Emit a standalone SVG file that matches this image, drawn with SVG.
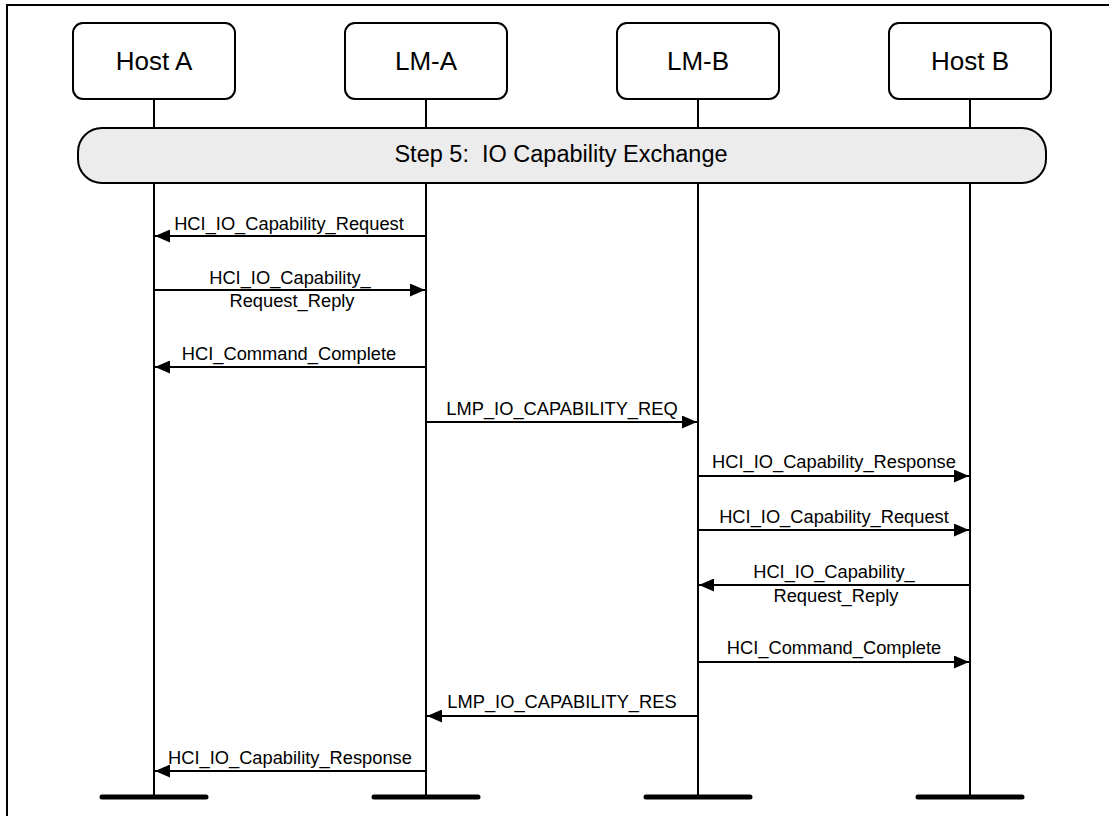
<svg xmlns="http://www.w3.org/2000/svg" width="1109" height="816" viewBox="0 0 1109 816">
<style>
.box{fill:#fff;stroke:#000;stroke-width:2}
.hdr{font-family:"Liberation Sans",Arial,sans-serif;font-size:26px;text-anchor:middle;fill:#000}
.life{stroke:#000;stroke-width:2;fill:none}
.foot{stroke:#000;stroke-width:5;stroke-linecap:round}
.msg{stroke:#000;stroke-width:2;fill:none;marker-end:url(#ah)}
.lbl{font-family:"Liberation Sans",Arial,sans-serif;font-size:18.3px;text-anchor:middle;fill:#000}
.step{fill:#ececec;stroke:#000;stroke-width:2}
.steptxt{font-family:"Liberation Sans",Arial,sans-serif;font-size:23.5px;text-anchor:middle;fill:#000}
</style>
<defs>
<marker id="ah" markerWidth="15" markerHeight="13" refX="15" refY="6.5" orient="auto" markerUnits="userSpaceOnUse">
<path d="M0,0 L15,6.5 L0,13 Z" fill="#000"/>
</marker>
</defs>
<rect x="0" y="0" width="1109" height="816" fill="#fff"/>
<rect id="frame" x="7" y="5" width="1200" height="900" fill="none" stroke="#000" stroke-width="2"/>

<g id="lifelines">
<line class="life" x1="154" y1="99" x2="154" y2="797"/>
<line class="life" x1="426" y1="99" x2="426" y2="797"/>
<line class="life" x1="698" y1="99" x2="698" y2="797"/>
<line class="life" x1="970" y1="99" x2="970" y2="797"/>
<line class="foot" x1="102" y1="797" x2="206" y2="797"/>
<line class="foot" x1="374" y1="797" x2="478" y2="797"/>
<line class="foot" x1="646" y1="797" x2="750" y2="797"/>
<line class="foot" x1="918" y1="797" x2="1022" y2="797"/>
</g>

<g id="hostA"><rect class="box" x="73" y="23" width="162" height="76" rx="10"/><text class="hdr" x="154" y="70">Host A</text></g>
<g id="lmA"><rect class="box" x="345" y="23" width="162" height="76" rx="10"/><text class="hdr" x="426" y="70">LM-A</text></g>
<g id="lmB"><rect class="box" x="617" y="23" width="162" height="76" rx="10"/><text class="hdr" x="698" y="70">LM-B</text></g>
<g id="hostB"><rect class="box" x="889" y="23" width="162" height="76" rx="10"/><text class="hdr" x="970" y="70">Host B</text></g>

<g id="step5"><rect class="step" x="78" y="128" width="968" height="55" rx="24"/><text class="steptxt" x="561" y="162" xml:space="preserve">Step 5:  IO Capability Exchange</text></g>

<g id="connectors">
<line class="msg" x1="426" y1="236" x2="155" y2="236"/>
<text class="lbl" x="289" y="230">HCI_IO_Capability_Request</text>

<line class="msg" x1="154" y1="290" x2="425" y2="290"/>
<text class="lbl" x="290" y="284">HCI_IO_Capability_</text>
<text class="lbl" x="292" y="307">Request_Reply</text>

<line class="msg" x1="426" y1="367" x2="155" y2="367"/>
<text class="lbl" x="289" y="360">HCI_Command_Complete</text>

<line class="msg" x1="426" y1="422" x2="697" y2="422"/>
<text class="lbl" x="562" y="415">LMP_IO_CAPABILITY_REQ</text>

<line class="msg" x1="698" y1="476" x2="969" y2="476"/>
<text class="lbl" x="834" y="468">HCI_IO_Capability_Response</text>

<line class="msg" x1="698" y1="530" x2="969" y2="530"/>
<text class="lbl" x="834" y="523">HCI_IO_Capability_Request</text>

<line class="msg" x1="970" y1="585" x2="699" y2="585"/>
<text class="lbl" x="834" y="578">HCI_IO_Capability_</text>
<text class="lbl" x="836" y="602">Request_Reply</text>

<line class="msg" x1="698" y1="662" x2="969" y2="662"/>
<text class="lbl" x="834" y="654">HCI_Command_Complete</text>

<line class="msg" x1="698" y1="716" x2="427" y2="716"/>
<text class="lbl" x="562" y="708">LMP_IO_CAPABILITY_RES</text>

<line class="msg" x1="426" y1="771" x2="155" y2="771"/>
<text class="lbl" x="290" y="764">HCI_IO_Capability_Response</text>
</g>
</svg>
